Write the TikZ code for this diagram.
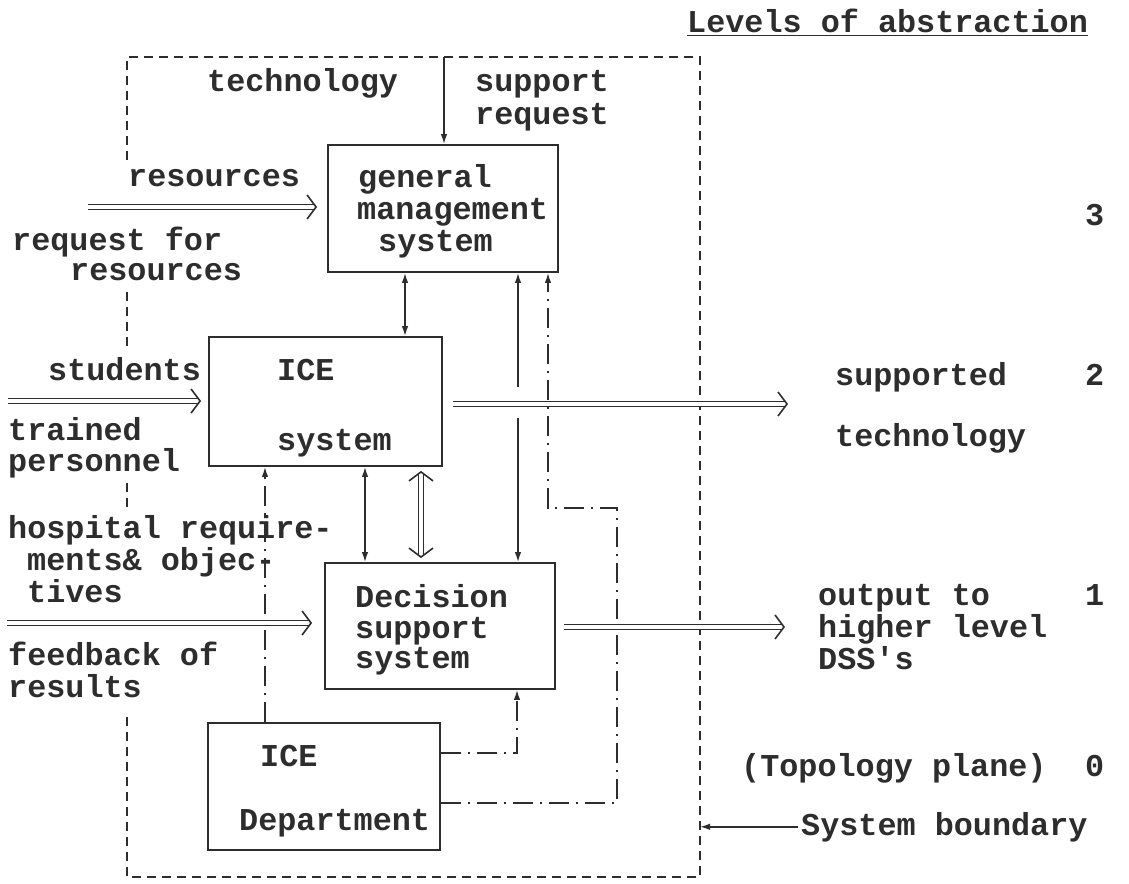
\documentclass[tikz,border=0pt]{standalone}
\usepackage{fontspec}
\newfontfamily\tw{Liberation Mono}
\usetikzlibrary{arrows.meta}
\definecolor{ink}{RGB}{45,45,45}
\begin{document}
\begin{tikzpicture}[x=1pt,y=-1pt,
  >={Latex[length=10pt,width=6.5pt]},
  imp/.tip={Straight Barb[length=9pt,width=24pt,line width=1.6pt]},
  txt/.style={font=\tw\bfseries\fontsize{31.8pt}{32pt}\selectfont, inner sep=0pt, anchor=base west, text=ink},
  box/.style={draw=ink, line width=1.8pt, inner sep=0pt},
  conn/.style={draw=ink, line width=1.5pt},
  dbl/.style={draw=ink, double=white, double distance=3.4pt, line width=1.5pt},
  dashdot/.style={draw=ink, line width=1.5pt, dash pattern=on 20pt off 7pt on 2pt off 7pt},
  bound/.style={draw=ink, line width=1.4pt, dash pattern=on 9pt off 6pt}]
\useasboundingbox (0,0) rectangle (1129,883);

% system boundary
\draw[bound] (127,160) -- (127,57) -- (700,57) -- (700,877) -- (127,877) -- (127,715);
\draw[bound] (127,292) -- (127,350);
\draw[bound] (127,483) -- (127,508);

% boxes
\node[box, minimum width=230pt, minimum height=127pt] (gms) at (443,208.5) {};
\node[box, minimum width=233pt, minimum height=129pt] (ice) at (325.5,401.5) {};
\node[box, minimum width=230pt, minimum height=126pt] (dss) at (440,626) {};
\node[box, minimum width=232pt, minimum height=127pt] (dept) at (324,786.5) {};

% texts
\node[txt] (tHead) at (687,33) {\underline{Levels of abstraction}};
\node[txt] (tTech) at (207,92) {technology};
\node[txt] (tSup1) at (475,92) {support};
\node[txt] (tSup2) at (475,124) {request};
\node[txt] (tRes) at (128,186) {resources};
\node[txt] (tReq1) at (12,250) {request for};
\node[txt] (tReq2) at (70,280) {resources};
\node[txt] (tStu) at (48,380) {students};
\node[txt] (tTr1) at (8,440) {trained};
\node[txt] (tTr2) at (8,471) {personnel};
\node[txt] (tHos1) at (8,538) {hospital require-};
\node[txt] (tHos2) at (27,570) {ments\& objec-};
\node[txt] (tHos3) at (27,602) {tives};
\node[txt] (tFb1) at (8,665) {feedback of};
\node[txt] (tFb2) at (8,697) {results};
\node[txt] (tG1) at (358,187) {general};
\node[txt] (tG2) at (357,219) {management};
\node[txt] (tG3) at (378,251) {system};
\node[txt] (tI1) at (277,380) {ICE};
\node[txt] (tI2) at (277,450) {system};
\node[txt] (tD1) at (355,607) {Decision};
\node[txt] (tD2) at (355,638) {support};
\node[txt] (tD3) at (355,668) {system};
\node[txt] (tE1) at (260,766) {ICE};
\node[txt] (tE2) at (239,830) {Department};
\node[txt] (tSt1) at (835,385) {supported};
\node[txt] (tSt2) at (835,446) {technology};
\node[txt] (tO1) at (818,605) {output to};
\node[txt] (tO2) at (818,637) {higher level};
\node[txt] (tO3) at (818,669) {DSS's};
\node[txt] (tTop) at (741,776) {(Topology plane)};
\node[txt] (tSB) at (801,835) {System boundary};
\node[txt] (n3) at (1085,225) {3};
\node[txt] (n2) at (1085,385) {2};
\node[txt] (n1) at (1085,605) {1};
\node[txt] (n0) at (1085,776) {0};

% coordinates
\coordinate (sr) at (444,57);
\coordinate (x405) at (405,0);
\coordinate (x365) at (365,0);
\coordinate (x421) at (421,0);
\coordinate (x265) at (265,0);
\coordinate (gapA) at (518,387);
\coordinate (gapB) at (518,418);
\coordinate (resS) at (88,207);
\coordinate (stuS) at (8,401);
\coordinate (hosS) at (7,623);
\coordinate (supE) at (788,404);
\coordinate (outE) at (785,627);
\coordinate (d1) at (517,753);
\coordinate (d2) at (617,803);
\coordinate (d3) at (617,508);
\coordinate (d4) at (548,508);
\coordinate (sb) at (700,827);

% solid connectors
\draw[conn,->] (sr) -- (gms.north -| sr);
\draw[conn,<->] (gms.south -| x405) -- (ice.north -| x405);
\draw[conn,<-] (gms.south -| gapA) -- (gapA);
\draw[conn,->] (gapB) -- (dss.north -| gapB);
\draw[conn,<->] (ice.south -| x365) -- (dss.north -| x365);

% dash-dot connectors
\draw[dashdot,->] (dept.north -| x265) -- (ice.south -| x265);
\draw[dashdot,->] (dept.east |- d1) -- (d1) -- (dss.south -| d1);
\draw[dashdot,->] (dept.east |- d2) -- (d2) -- (d3) -- (d4) -- (gms.south -| d4);

% double arrows
\draw[dbl,-imp, shorten >=10pt] (resS) -- (resS -| gms.west);
\draw[dbl,-imp, shorten >=7pt] (stuS) -- (stuS -| ice.west);
\draw[dbl,-imp, shorten >=12pt] (hosS) -- (hosS -| dss.west);
\draw[dbl,-imp, shorten <=10pt] (supE -| ice.east) -- (supE);
\draw[dbl,-imp, shorten <=8pt] (outE -| dss.east) -- (outE);
\draw[dbl,imp-imp, shorten <=4pt, shorten >=4pt] (ice.south -| x421) -- (dss.north -| x421);

% system boundary pointer
\draw[conn,->, shorten <=3pt] (tSB.west) -- (tSB.west -| sb);
\end{tikzpicture}
\end{document}
